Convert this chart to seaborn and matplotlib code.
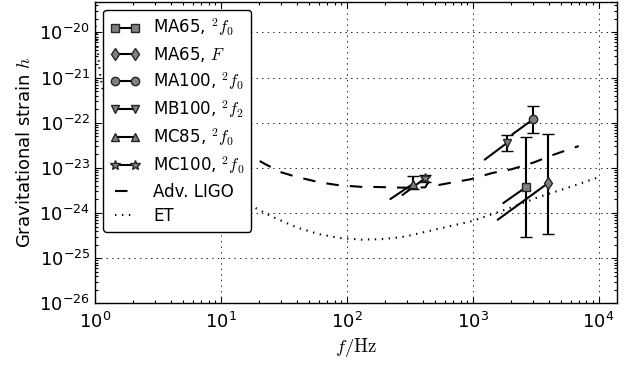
import numpy as np
import pandas as pd
import matplotlib
matplotlib.use("Agg")
import matplotlib.pyplot as plt
import matplotlib.ticker as mticker
import seaborn as sns
from matplotlib.lines import Line2D

# ---------------- data ----------------
series_labels = [r"MA65, $^2f_0$", r"MA65, $F$", r"MA100, $^2f_0$",
                 r"MB100, $^2f_2$", r"MC85, $^2f_0$", r"MC100, $^2f_0$"]
series_markers = ["s", "d", "o", "v", "^", "*"]
series_msize = [5.5, 6.5, 6.0, 6.0, 6.0, 7.5]
track_f_start = [1750, 1580, 2060, 1245, 222, 277]
track_h_start = [1.66e-24, 7.1e-25, 5.5e-23, 1.52e-23, 2.04e-24, 2.51e-24]
peak_f = [2660, 3970, 3020, 1880, 337, 417]
peak_h = [3.77e-24, 4.6e-24, 1.19e-22, 3.6e-23, 4.46e-24, 5.86e-24]
peak_h_low = [2.9e-25, 3.4e-25, 6.0e-23, 2.36e-23, 3.4e-24, 4.94e-24]
peak_h_high = [4.8e-23, 5.7e-23, 2.34e-22, 5.33e-23, 6.5e-24, 6.9e-24]

ligo_f = [14, 17, 22, 30, 40, 55, 70, 87.5, 130, 171, 295, 420, 445, 470,
          650, 965, 1430, 2060, 3060, 4400, 6950]
ligo_h = [2.6e-23, 1.9e-23, 1.25e-23, 8e-24, 6.3e-24, 5.1e-24, 4.5e-24,
          4.1e-24, 3.8e-24, 3.77e-24, 3.63e-24, 3.7e-24, 4.9e-24, 3.9e-24,
          4.6e-24, 5.6e-24, 7.7e-24, 9.4e-24, 1.32e-23, 1.96e-23, 3.04e-23]

et_f = [1.0, 1.05, 1.1, 1.2, 2, 4, 8, 12, 17, 25, 40, 60, 87.5, 130, 200, 295,
        541, 993, 1820, 3350, 6150, 10000]
et_h = [2.0e-20, 4e-21, 1.1e-21, 3e-22, 2e-23, 6e-24, 3e-24, 2e-24, 1.5e-24,
        8.5e-25, 4.8e-25, 3.4e-25, 2.8e-25, 2.57e-25, 2.65e-25, 3.04e-25,
        4.5e-25, 6.65e-25, 1.19e-24, 2.26e-24, 3.9e-24, 6.2e-24]

curve_labels = ["Adv. LIGO", "ET"]
x_ticks = [1e0, 1e1, 1e2, 1e3, 1e4]
y_ticks = [1e-26, 1e-25, 1e-24, 1e-23, 1e-22, 1e-21, 1e-20]

# ---------------- style ----------------
sns.set_style("white")
plt.rcParams.update({
    "font.family": ["DejaVu Sans"],
    "mathtext.fontset": "cm",
    "axes.unicode_minus": False,
    "lines.scale_dashes": False,
    "axes.edgecolor": "black",
    "axes.linewidth": 1.0,
    "xtick.color": "black",
    "ytick.color": "black",
    "text.color": "black",
    "axes.labelcolor": "black",
})

DASH = (0, (9, 8))
DOT = (0, (1, 4))
MFC = "0.5"
MEC = "0.15"

fig = plt.figure(figsize=(6.32, 3.71), dpi=100)
ax = fig.add_axes([0.1503, 0.1825, 0.826, 0.813])
ax.set_xscale("log")
ax.set_yscale("log")

# detector curves
sns.lineplot(x=ligo_f, y=ligo_h, ax=ax, color="k", lw=1.5, linestyle=DASH,
             errorbar=None, legend=False, sort=False)
sns.lineplot(x=et_f, y=et_h, ax=ax, color="k", lw=1.5, linestyle=DOT,
             errorbar=None, legend=False, sort=False)

# model tracks + peak markers
for i in range(len(series_labels)):
    sns.lineplot(x=[track_f_start[i], peak_f[i]], y=[track_h_start[i], peak_h[i]],
                 ax=ax, color="k", lw=1.5, errorbar=None, legend=False, sort=False)
    yerr = np.array([[peak_h[i] - peak_h_low[i]], [peak_h_high[i] - peak_h[i]]])
    ax.errorbar([peak_f[i]], [peak_h[i]], yerr=yerr, fmt=series_markers[i],
                mfc=MFC, mec=MEC, mew=1.0, ms=series_msize[i], ecolor="k",
                elinewidth=1.5, capsize=4, capthick=1.5, zorder=4)

ax.set_xlim(1, 1.4e4)
ax.set_ylim(1e-26, 4.8e-20)
ax.xaxis.set_major_locator(mticker.FixedLocator(x_ticks))
ax.yaxis.set_major_locator(mticker.FixedLocator(y_ticks))
ax.xaxis.set_major_formatter(mticker.LogFormatterSciNotation())
ax.yaxis.set_major_formatter(mticker.LogFormatterSciNotation())
ax.xaxis.set_minor_locator(mticker.LogLocator(base=10, subs=np.arange(2, 10), numticks=20))
ax.yaxis.set_minor_locator(mticker.LogLocator(base=10, subs=np.arange(2, 10), numticks=20))
ax.xaxis.set_minor_formatter(mticker.NullFormatter())
ax.yaxis.set_minor_formatter(mticker.NullFormatter())

ax.grid(True, which="major", color="k", linestyle=(0, (1, 3)), linewidth=0.6)
ax.set_axisbelow(True)
ax.tick_params(which="both", direction="in", top=True, right=True,
               bottom=True, left=True, labelsize=13, width=0.8)
ax.tick_params(which="major", length=4.5)
ax.tick_params(which="minor", length=2.2)
ax.tick_params(axis="x", which="major", pad=6)
for s in ax.spines.values():
    s.set_visible(True)
    s.set_color("k")

ax.set_xlabel(r"$f/\mathrm{Hz}$", fontsize=13.5, labelpad=3)
ax.set_ylabel(r"Gravitational strain $h$", fontsize=13)

handles = []
for i in range(len(series_labels)):
    handles.append(Line2D([], [], color="k", lw=1.5, marker=series_markers[i],
                          mfc=MFC, mec=MEC, mew=1.0, ms=series_msize[i]))
handles.append(Line2D([], [], color="k", lw=1.5, linestyle=DASH))
handles.append(Line2D([], [], color="k", lw=1.5, linestyle=DOT))
leg = ax.legend(handles, series_labels + curve_labels, loc="upper left",
                numpoints=2, fontsize=12, frameon=True, fancybox=True,
                framealpha=1.0, edgecolor="k", handlelength=1.8,
                labelspacing=0.38, borderaxespad=0.5)
leg.get_frame().set_linewidth(1.0)

fig.savefig("out.png", dpi=100)
